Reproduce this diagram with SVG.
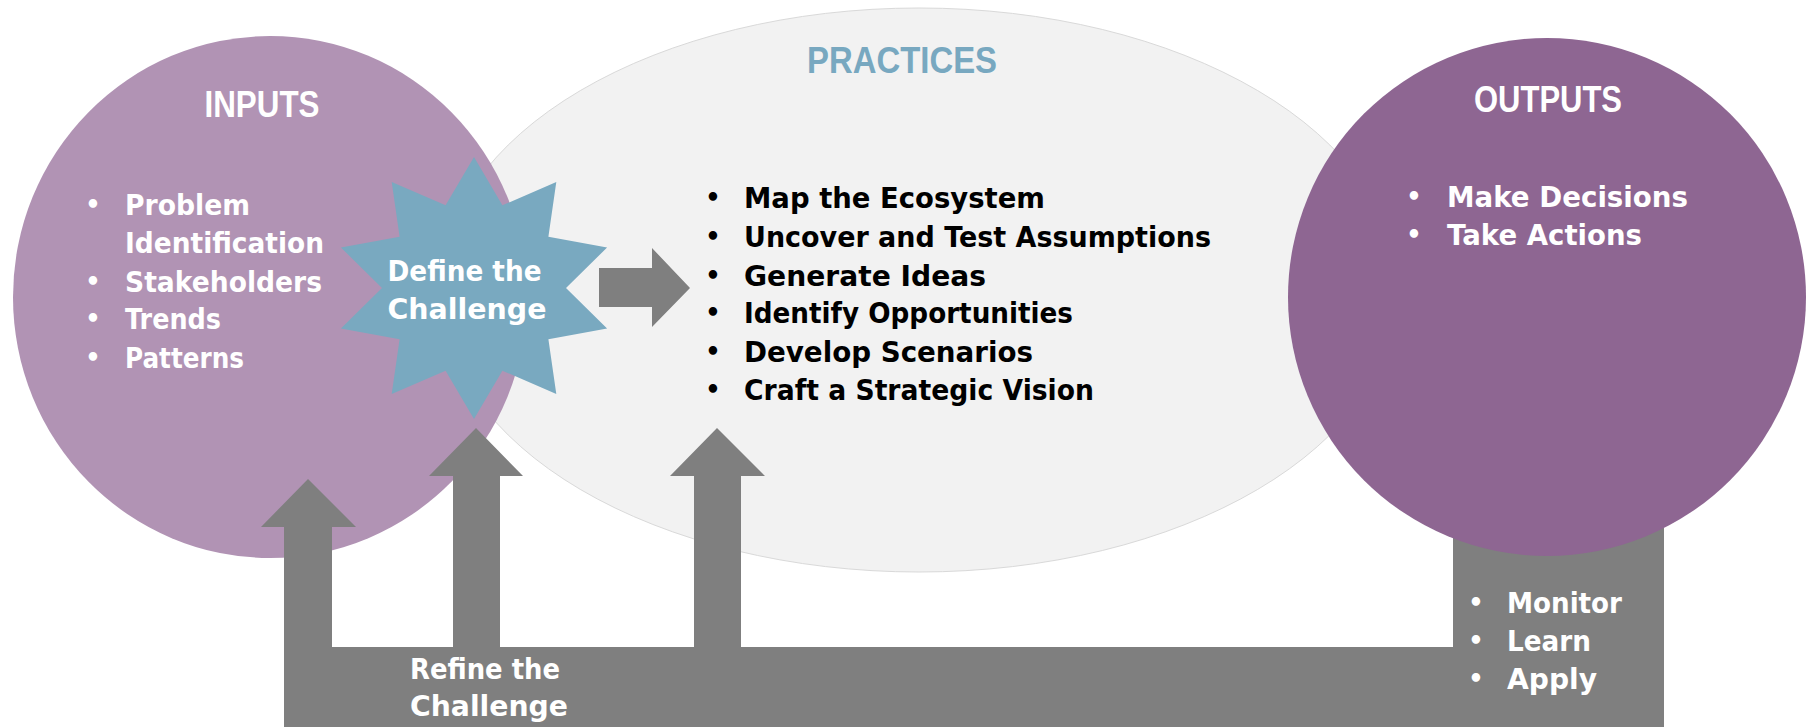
<svg xmlns="http://www.w3.org/2000/svg" width="1814" height="727" viewBox="0 0 1814 727">
  <style>
    .title { font-family: "Liberation Sans", Arial, sans-serif; font-weight: 700; font-size: 36px; text-anchor: middle; }
    .body { font-family: "DejaVu Sans", "Liberation Sans", sans-serif; font-weight: 700; font-size: 29px; }
    .dot { font-family: "DejaVu Sans", sans-serif; font-weight: 700; font-size: 24px; text-anchor: middle; }
    .light { fill: #ffffff; }
    .dark { fill: #000000; }
    .flow { fill: #7f7f7f; }
  </style>

  <!-- Practices: large pale ellipse in the middle -->
  <g id="node-practices">
    <ellipse cx="919" cy="290" rx="479" ry="282" fill="#f2f2f2" stroke="#d9d9d9" stroke-width="1"/>
    <text class="title" x="902" y="73" fill="#78a8c0" textLength="190" lengthAdjust="spacingAndGlyphs">PRACTICES</text>
    <g class="dark">
      <text class="dot" x="713" y="206">•</text>
      <text class="dot" x="713" y="245">•</text>
      <text class="dot" x="713" y="284">•</text>
      <text class="dot" x="713" y="321">•</text>
      <text class="dot" x="713" y="360">•</text>
      <text class="dot" x="713" y="398">•</text>
      <text class="body" font-size="28" x="744" y="208" textLength="301" lengthAdjust="spacingAndGlyphs">Map the Ecosystem</text>
      <text class="body" font-size="28" x="744" y="247" textLength="467" lengthAdjust="spacingAndGlyphs">Uncover and Test Assumptions</text>
      <text class="body" font-size="28" x="744" y="286" textLength="242" lengthAdjust="spacingAndGlyphs">Generate Ideas</text>
      <text class="body" font-size="28" x="744" y="323" textLength="329" lengthAdjust="spacingAndGlyphs">Identify Opportunities</text>
      <text class="body" font-size="28" x="744" y="362" textLength="289" lengthAdjust="spacingAndGlyphs">Develop Scenarios</text>
      <text class="body" font-size="28" x="744" y="400" textLength="350" lengthAdjust="spacingAndGlyphs">Craft a Strategic Vision</text>
    </g>
  </g>

  <!-- Inputs circle -->
  <g id="node-inputs">
    <ellipse cx="270" cy="297" rx="257" ry="261" fill="#b193b4"/>
    <text class="title light" x="262" y="117" textLength="115" lengthAdjust="spacingAndGlyphs">INPUTS</text>
    <g class="light">
      <text class="dot" x="93" y="213">•</text>
      <text class="dot" x="93" y="290">•</text>
      <text class="dot" x="93" y="327">•</text>
      <text class="dot" x="93" y="366">•</text>
      <text class="body" x="125" y="215" textLength="125" lengthAdjust="spacingAndGlyphs">Problem</text>
      <text class="body" x="125" y="253" textLength="199" lengthAdjust="spacingAndGlyphs">Identification</text>
      <text class="body" x="125" y="292" textLength="197" lengthAdjust="spacingAndGlyphs">Stakeholders</text>
      <text class="body" x="125" y="329" textLength="96" lengthAdjust="spacingAndGlyphs">Trends</text>
      <text class="body" x="125" y="368" textLength="119" lengthAdjust="spacingAndGlyphs">Patterns</text>
    </g>
  </g>

  <!-- Define the Challenge: ten-point star -->
  <g id="node-define">
    <polygon fill="#79a9c0" points="474,157 502.4,205.3 556.3,182 548.4,236.8 607.1,247.5 566,288 607.1,328.5 548.4,339.2 556.3,394 502.4,370.7 474,419 445.6,370.7 391.7,394 399.6,339.2 340.9,328.5 382,288 340.9,247.5 399.6,236.8 391.7,182 445.6,205.3"/>
    <g class="light" text-anchor="middle">
      <text class="body" font-size="31" x="464.5" y="281" text-anchor="middle" textLength="154" lengthAdjust="spacingAndGlyphs">Define the</text>
      <text class="body" font-size="31" x="467" y="319" text-anchor="middle" textLength="159" lengthAdjust="spacingAndGlyphs">Challenge</text>
    </g>
  </g>

  <!-- Connectors: forward arrow and the feedback loop -->
  <g id="connectors">
    <path id="arrow-forward" class="flow" d="M599,268 H652 V248 L690,288 L652,327 V307 H599 Z"/>
    <path id="feedback-loop" class="flow" d="M284,727 V527 H261 L308,479 L356,527 H332 V647 H453 V476 H429 L476,428 L523,476 H500 V647 H694 V476 H670 L717,428 L765,476 H741 V647 H1453 V528 H1664 V727 Z"/>
    <g id="label-refine" class="light">
      <text class="body" x="410" y="679" textLength="150" lengthAdjust="spacingAndGlyphs">Refine the</text>
      <text class="body" x="410" y="716" textLength="158" lengthAdjust="spacingAndGlyphs">Challenge</text>
    </g>
    <g id="label-monitor" class="light">
      <text class="dot" x="1476" y="611">•</text>
      <text class="dot" x="1476" y="649">•</text>
      <text class="dot" x="1476" y="687">•</text>
      <text class="body" x="1507" y="613" textLength="115" lengthAdjust="spacingAndGlyphs">Monitor</text>
      <text class="body" x="1507" y="651" textLength="84" lengthAdjust="spacingAndGlyphs">Learn</text>
      <text class="body" x="1507" y="689" textLength="90" lengthAdjust="spacingAndGlyphs">Apply</text>
    </g>
  </g>

  <!-- Outputs circle -->
  <g id="node-outputs">
    <circle cx="1547" cy="297" r="259" fill="#8e6692"/>
    <text class="title light" font-size="37" x="1548" y="112" textLength="148" lengthAdjust="spacingAndGlyphs">OUTPUTS</text>
    <g class="light">
      <text class="dot" x="1414" y="205">•</text>
      <text class="dot" x="1414" y="243">•</text>
      <text class="body" font-size="30" x="1447" y="207" textLength="241" lengthAdjust="spacingAndGlyphs">Make Decisions</text>
      <text class="body" font-size="30" x="1447" y="245" textLength="195" lengthAdjust="spacingAndGlyphs">Take Actions</text>
    </g>
  </g>
</svg>
